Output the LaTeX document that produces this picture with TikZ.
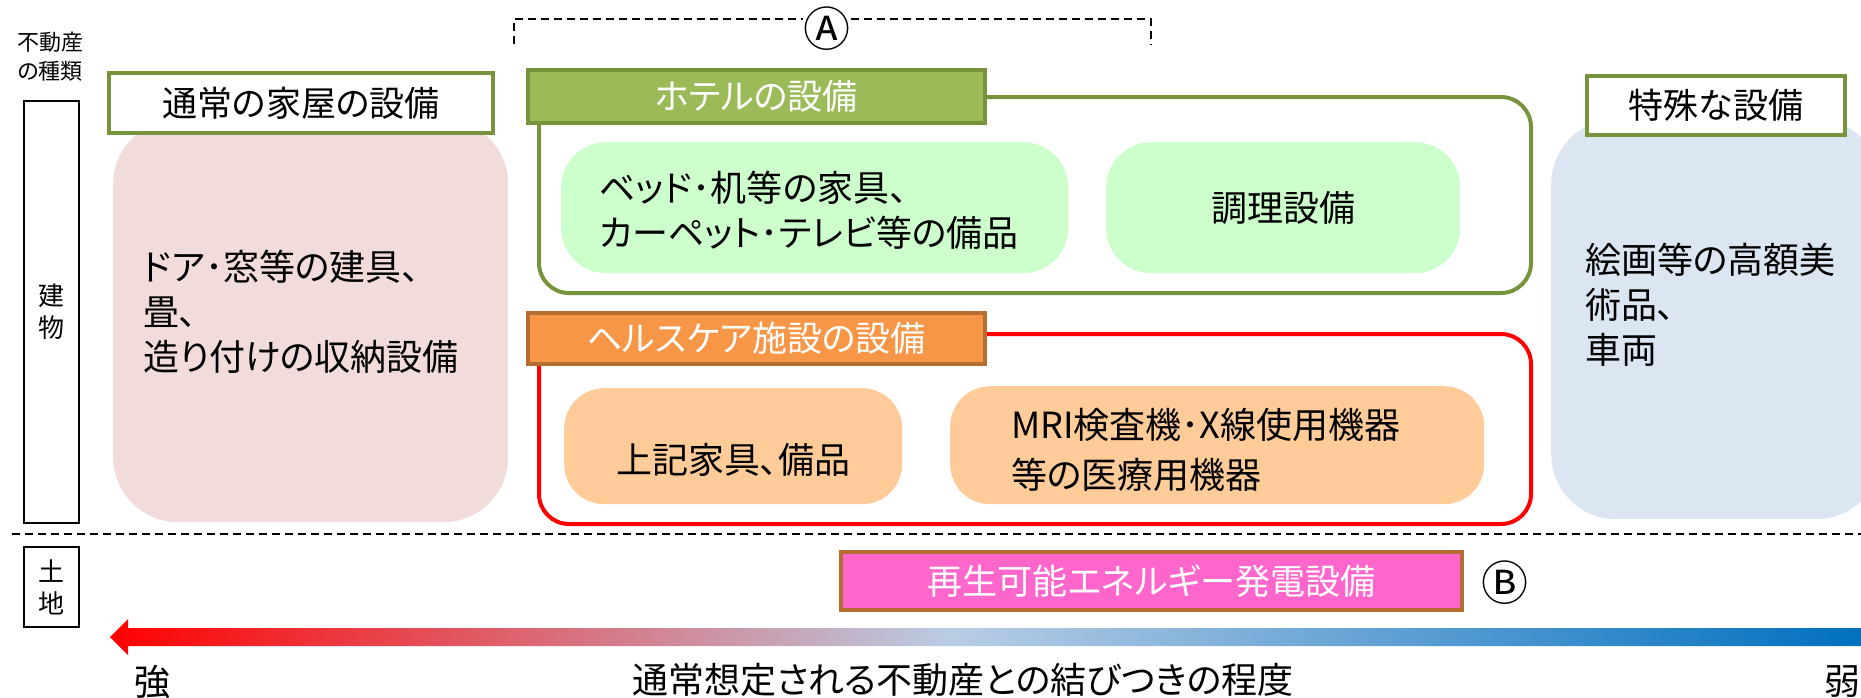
\documentclass[tikz,border=0pt]{standalone}
\usepackage{fontspec}
\setmainfont{Noto Sans CJK JP}[RawFeature=+palt]
\usetikzlibrary{shapes}
\definecolor{olv}{HTML}{77933C}
\definecolor{olvfill}{HTML}{9BBB59}
\definecolor{mint}{HTML}{CCFFCC}
\definecolor{orng}{HTML}{F79646}
\definecolor{orngdk}{HTML}{B66D31}
\definecolor{peach}{HTML}{FFCC99}
\definecolor{rose}{HTML}{F2DCDB}
\definecolor{sky}{HTML}{DCE6F2}
\definecolor{magn}{HTML}{FF66CC}
\definecolor{lblue}{HTML}{B9CDE5}
\definecolor{dblue}{HTML}{0070C0}
\pgfdeclarehorizontalshading{bondshade}{100bp}{color(0bp)=(red); color(25bp)=(red); color(49bp)=(lblue); color(75bp)=(dblue); color(100bp)=(dblue)}
\tikzstyle{txt}=[font=\fontsize{36}{45}\selectfont,inner sep=0pt]
\tikzstyle{sml}=[font=\fontsize{22}{29}\selectfont,inner sep=0pt,align=center]
\tikzstyle{circled}=[font=\fontsize{47}{50}\selectfont,inner sep=0pt]
\tikzstyle{ttl}=[draw=olv,line width=4pt,fill=white,anchor=north west,inner sep=0pt,font=\fontsize{35}{42}\selectfont]
\tikzstyle{blob}=[anchor=north west,rounded corners=45pt,inner sep=0pt]
\tikzstyle{frm}=[anchor=north west,rounded corners=30pt,line width=4pt,inner sep=0pt]
\tikzstyle{kind}=[draw=black,line width=2pt,anchor=north west,inner sep=0pt]
\tikzstyle{sep}=[draw=black,line width=1.5pt,dash pattern=on 8pt off 5pt]

\begin{document}
\begin{tikzpicture}[x=1pt,y=-1pt]
\useasboundingbox (0,0) rectangle (1861,697);
% kind of property
\node[sml] (kindlbl) at (50,57) {不動産\\の種類};
\node[kind,minimum width=55pt,minimum height=422pt] (bldg) at (23,100) {};
\node[sml,font=\fontsize{26}{32}\selectfont] (bldgtxt) at (bldg.center) {建\\物};
\node[kind,minimum width=55pt,minimum height=80pt] (land) at (23,546) {};
\node[sml,font=\fontsize{26}{32}\selectfont] (landtxt) at (land.center) {土\\地};
\draw[sep] (12,534) -- (1861,534);

% usual house
\node[blob,fill=rose,rounded corners=65pt,minimum width=395pt,minimum height=403pt] (house) at (113,119) {};
\node[ttl,minimum width=384pt,minimum height=60pt] (housettl) at (107,71) {通常の家屋の設備};
\node[txt,align=left,anchor=west] (housetxt) at (143,312) {ドア･窓等の建具、\\畳、\\造り付けの収納設備};

% hotel
\node[frm,draw=olv,minimum width=992pt,minimum height=196pt] (hotel) at (537,95) {};
\node[ttl,fill=olvfill,text=white,minimum width=457pt,minimum height=53pt] (hotelttl) at (526,68) {ホテルの設備};
\node[blob,fill=mint,minimum width=507pt,minimum height=131pt] (furn) at (561,142) {};
\node[txt,align=left,anchor=west] (furntxt) at (599,210) {ベッド･机等の家具、\\カーペット･テレビ等の備品};
\node[blob,fill=mint,minimum width=354pt,minimum height=131pt] (cook) at (1106,142) {};
\node[txt] (cooktxt) at (cook.center) {調理設備};

% health care
\node[frm,draw=red,minimum width=992pt,minimum height=190pt] (care) at (537,332) {};
\node[ttl,draw=orngdk,fill=orng,text=white,minimum width=457pt,minimum height=51pt] (carettl) at (526,311) {ヘルスケア施設の設備};
\node[blob,fill=peach,rounded corners=40pt,minimum width=338pt,minimum height=116pt] (used) at (564,388) {};
\node[txt] (usedtxt) at (733,460) {上記家具、備品};
\node[blob,fill=peach,rounded corners=40pt,minimum width=534pt,minimum height=118pt] (medi) at (950,386) {};
\node[txt,align=left,anchor=west,font=\fontsize{36}{50}\selectfont] (meditxt) at (1011,450) {MRI検査機･X線使用機器\\等の医療用機器};

% special
\node[blob,fill=sky,rounded corners=65pt,minimum width=330pt,minimum height=400pt] (spec) at (1551,119) {};
\node[ttl,minimum width=258pt,minimum height=59pt] (specttl) at (1585,74) {特殊な設備};
\node[txt,align=left,anchor=west] (spectxt) at (1585,305) {絵画等の高額美\\術品、\\車両};

% bracket A
\node[circled] (markA) at (827,29) {Ⓐ};
\coordinate (brl) at (514,44);
\coordinate (brr) at (1151,44);
\draw[sep,line width=1.2pt] (brl) |- ([yshift=10pt]markA.west);
\draw[sep,line width=1.2pt] ([yshift=10pt]markA.east) -| (brr);

% land
\node[ttl,draw=orngdk,fill=magn,text=white,minimum width=621pt,minimum height=58pt] (solar) at (839,550) {再生可能エネルギー発電設備};
\node[circled] (markB) at (1505,583) {Ⓑ};

% degree arrow
\shade[shading=bondshade] (110,637) -- (128,619) -- (128,628) -- (1861,628) -- (1861,646) -- (128,646) -- (128,655) -- cycle;
\node[txt] (strong) at (152,682) {強};
\node[txt] (degree) at (963,680) {通常想定される不動産との結びつきの程度};
\node[txt] (weak) at (1842,682) {弱};
\end{tikzpicture}
\end{document}
